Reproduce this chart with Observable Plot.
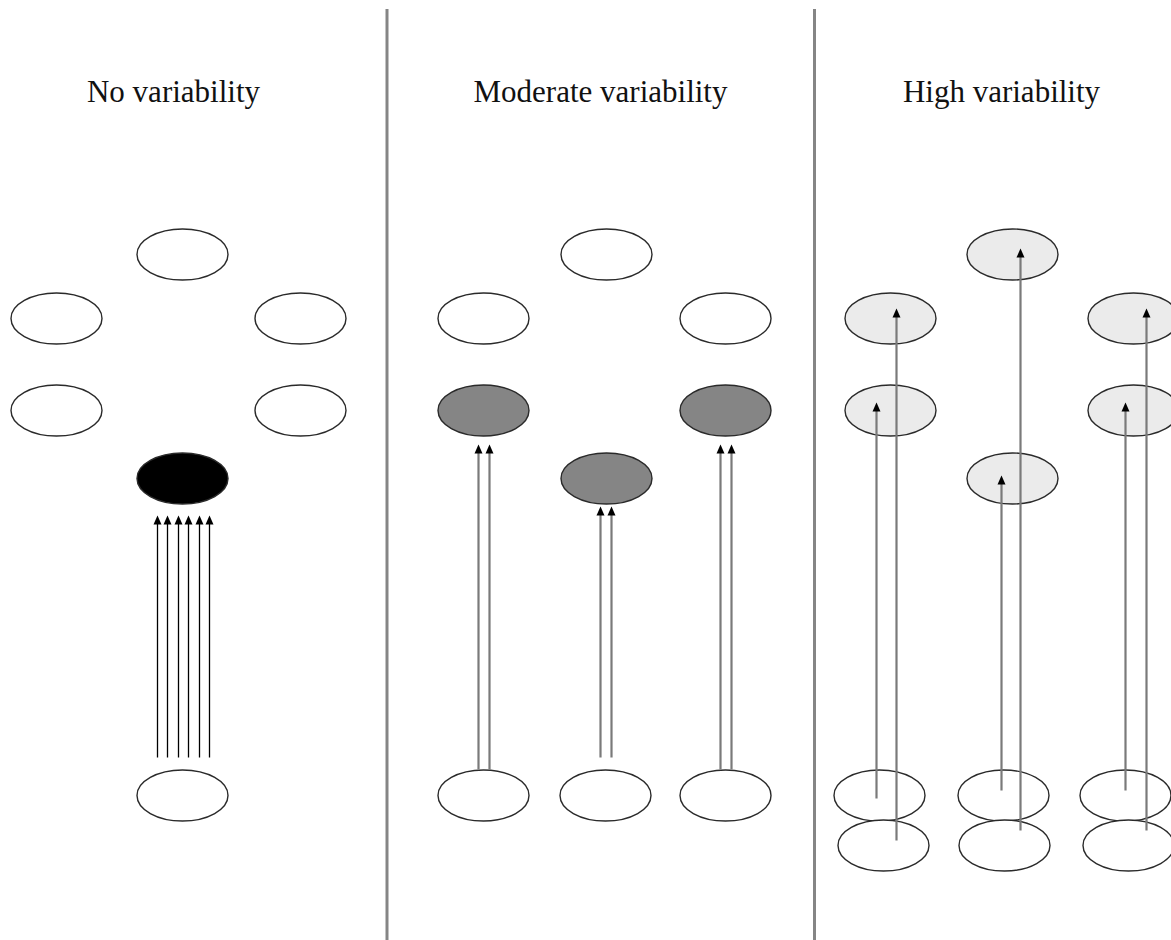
<!DOCTYPE html>
<html>
<head>
<meta charset="utf-8">
<script src="https://cdn.jsdelivr.net/npm/d3@7"></script>
<script src="https://cdn.jsdelivr.net/npm/@observablehq/plot@0.6"></script>
<style>
  html, body { margin: 0; padding: 0; background: #fff; }
</style>
</head>
<body>
<div id="chart"></div>
<script>
// Panel titles
const titles = ["No variability", "Moderate variability", "High variability"];
const titleX = [173, 600, 1001];
const titleY = [101, 101, 101];

// Panel dividers
const dividerX = [386.5, 814];

// Ellipses (centre x, centre y, fill)
const ellipseX = [182, 56, 56, 300, 300, 182, 182,
                  606, 483, 483, 725, 725, 606, 483, 605, 725,
                  1012, 890, 890, 1133, 1133, 1012, 879, 883, 1003, 1004, 1125, 1128];
const ellipseY = [254, 318, 410, 318, 410, 478, 795,
                  254, 318, 410, 318, 410, 478, 795, 795, 795,
                  254, 318, 410, 318, 410, 478, 795, 845, 795, 845, 795, 845];
const ellipseFill = ["white", "white", "white", "white", "white", "black", "white",
                     "white", "white", "#858585", "white", "#858585", "#858585", "white", "white", "white",
                     "#ebebeb", "#ebebeb", "#ebebeb", "#ebebeb", "#ebebeb", "#ebebeb", "white", "white", "white", "white", "white", "white"];

// Arrows (x, start y, tip y, line colour)
const arrowX = [157, 167, 178, 188, 199, 209,
                478, 489, 600, 611, 720, 731,
                876, 896, 1001, 1020, 1125, 1146];
const arrowStart = [757, 757, 757, 757, 757, 757,
                    769, 769, 757, 757, 769, 769,
                    798, 840, 790, 830, 790, 830];
const arrowTip = [515, 515, 515, 515, 515, 515,
                  444, 444, 506, 506, 444, 444,
                  402, 308, 475, 248, 402, 308];
const arrowColor = ["black", "black", "black", "black", "black", "black",
                    "#7a7a7a", "#7a7a7a", "#7a7a7a", "#7a7a7a", "#7a7a7a", "#7a7a7a",
                    "#7a7a7a", "#7a7a7a", "#7a7a7a", "#7a7a7a", "#7a7a7a", "#7a7a7a"];
const arrowWidth = [1.3, 1.3, 1.3, 1.3, 1.3, 1.3,
                    2.2, 2.2, 2.2, 2.2, 2.2, 2.2,
                    2.2, 2.2, 2.2, 2.2, 2.2, 2.2];

const ellipses = ellipseX.map((x, i) => ({x, y: ellipseY[i], fill: ellipseFill[i]}));
const arrows = arrowX.map((x, i) => ({x, y1: arrowStart[i], y2: arrowTip[i], color: arrowColor[i], w: arrowWidth[i]}));
const titleData = titles.map((t, i) => ({t, x: titleX[i], y: titleY[i]}));

const HEAD = 9;
const ellipseSymbol = {
  draw(ctx) {
    const rx = 45.5, ry = 25.5, k = 0.5523;
    ctx.moveTo(rx, 0);
    ctx.bezierCurveTo(rx, ry * k, rx * k, ry, 0, ry);
    ctx.bezierCurveTo(-rx * k, ry, -rx, ry * k, -rx, 0);
    ctx.bezierCurveTo(-rx, -ry * k, -rx * k, -ry, 0, -ry);
    ctx.bezierCurveTo(rx * k, -ry, rx, -ry * k, rx, 0);
    ctx.closePath();
  }
};
const headSymbol = {
  draw(ctx) {
    ctx.moveTo(0, 0);
    ctx.lineTo(-4, HEAD);
    ctx.lineTo(4, HEAD);
    ctx.closePath();
  }
};

const chart = Plot.plot({
  width: 1171,
  height: 940,
  margin: 0,
  x: {domain: [0, 1171], range: [0, 1171], axis: null},
  y: {domain: [0, 940], range: [0, 940], axis: null},
  color: {type: "identity"},
  style: {background: "white"},
  marks: [
    Plot.ruleX(dividerX, {x: d => d, y1: 9, y2: 940, stroke: "#858585", strokeWidth: 3}),
    Plot.text(titleData, {x: "x", y: "y", text: "t", fontSize: 31, fontFamily: "Liberation Serif", fill: "#111", textAnchor: "middle", lineAnchor: "bottom"}),
    Plot.dot(ellipses, {x: "x", y: "y", symbol: ellipseSymbol, fill: "fill", stroke: "#2a2a2a", strokeWidth: 1.4}),
    Plot.link(arrows, {x1: "x", x2: "x", y1: "y1", y2: d => d.y2 + HEAD - 1, stroke: "color", strokeWidth: "w"}),
    Plot.dot(arrows, {x: "x", y: "y2", symbol: headSymbol, fill: "black", stroke: "none"})
  ]
});
document.getElementById("chart").appendChild(chart);
</script>
</body>
</html>
